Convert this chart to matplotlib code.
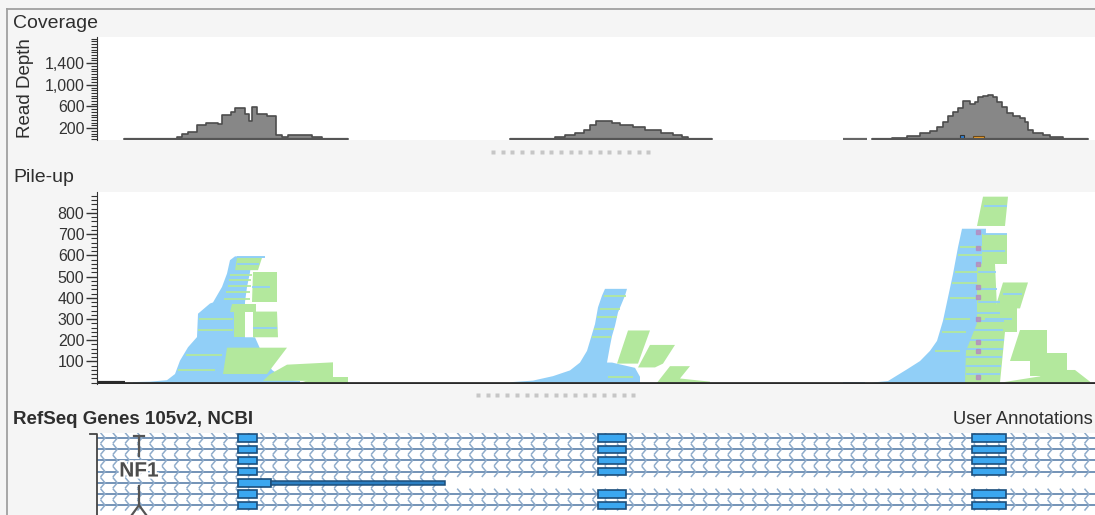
import numpy as np
import matplotlib
matplotlib.use('Agg')
import matplotlib.pyplot as plt
from matplotlib.patches import Polygon, Rectangle
from matplotlib.lines import Line2D
from matplotlib.collections import LineCollection
from matplotlib.ticker import FuncFormatter, MultipleLocator
import matplotlib.patheffects as pe

plt.rcParams['font.family'] = ['Liberation Sans', 'DejaVu Sans']

W, H = 1095, 515

# ---- coverage (read depth), step profiles over the view ----
cov1_pos = [124, 177, 182, 188, 197, 206, 218, 222, 231, 235, 245, 249, 252, 257, 267, 276, 282, 288, 312, 322, 348]
cov1_depth = [0, 40, 85, 130, 260, 300, 280, 440, 500, 580, 470, 330, 585, 460, 420, 70, 40, 80, 40, 0, 0]
cov2_pos = [510, 555, 565, 575, 584, 590, 596, 612, 620, 633, 645, 661, 673, 682, 688, 712]
cov2_depth = [0, 35, 80, 110, 175, 255, 335, 300, 265, 225, 160, 110, 80, 35, 0, 0]
cov3_pos = [872, 892, 907, 920, 930, 937, 943, 948, 953, 958, 963, 970, 975, 978, 983, 988, 993, 997,
            1002, 1007, 1013, 1020, 1025, 1028, 1033, 1043, 1050, 1060, 1063, 1088]
cov3_depth = [0, 20, 60, 110, 155, 215, 305, 430, 490, 570, 695, 655, 675, 770, 800, 820, 770, 690,
              590, 475, 425, 380, 320, 165, 115, 75, 45, 30, 0, 0]
cov_gap_span = (843, 867)
# variant marks under the third peak: (start, end, depth)
var_blue = (960, 964, 75)
var_orange = (973, 984, 65)

# ---- pile-up: groups of stacked reads as (position, row) outlines ----
BLUE = '#91cff7'
GREEN = '#b3e89d'
pile_blue = [
    [(133, 0), (300, 0), (300, 8), (285, 18), (272, 60), (262, 140), (255, 214), (245, 214), (245, 380),
     (247, 450), (250, 520), (252, 585), (265, 588), (265, 595), (235, 595), (230, 577), (227, 514),
     (222, 451), (213, 378), (210, 373), (198, 325), (197, 215), (188, 167), (180, 104), (175, 41),
     (167, 12), (150, 5), (133, 3)],
    [(510, 0), (640, 0), (640, 28), (635, 70), (612, 95), (607, 95), (610, 173), (612, 220), (615, 268),
     (618, 331), (625, 410), (627, 442), (605, 442), (602, 410), (598, 355), (595, 276), (590, 197),
     (587, 150), (580, 95), (570, 58), (553, 31), (533, 10), (512, 3)],
    [(843, 0), (865, 0), (865, 5), (843, 5)],
    [(872, 0), (1000, 0), (995, 100), (990, 210), (985, 560), (986, 725), (962, 725), (958, 638),
     (953, 512), (948, 402), (943, 292), (937, 197), (930, 150), (920, 102), (907, 63), (888, 8), (875, 2)],
]
pile_green = [
    [(235, 530), (258, 530), (262, 588), (237, 588)],
    [(252, 380), (277, 380), (277, 520), (253, 520)],
    [(230, 335), (256, 335), (256, 373), (232, 373)],
    [(253, 214), (278, 214), (277, 335), (253, 335)],
    [(234, 214), (245, 214), (245, 335), (234, 335)],
    [(223, 41), (267, 41), (287, 165), (227, 165)],
    [(263, 9), (333, 9), (333, 96), (287, 85), (270, 40)],
    [(300, 0), (348, 0), (348, 25), (317, 25)],
    [(617, 90), (638, 90), (650, 246), (628, 246)],
    [(638, 72), (655, 72), (663, 90), (675, 178), (650, 178)],
    [(657, 0), (710, 0), (710, 5), (680, 20), (690, 78), (670, 78)],
    [(965, 0), (1000, 0), (1005, 240), (997, 350), (995, 560), (977, 560), (977, 280), (966, 150)],
    [(985, 240), (1017, 240), (1017, 350), (985, 350)],
    [(995, 350), (1020, 350), (1028, 472), (1003, 472)],
    [(982, 560), (1007, 560), (1007, 700), (982, 700)],
    [(977, 738), (1005, 738), (1008, 876), (983, 876)],
    [(1010, 100), (1047, 100), (1047, 248), (1020, 248)],
    [(1030, 30), (1067, 30), (1067, 140), (1030, 140)],
    [(1000, 0), (1090, 0), (1090, 5), (1075, 60), (1047, 60), (1040, 30)],
]
# single reads of the other strand crossing a group: (row, start, end)
green_reads = [(395, 224, 250), (425, 226, 250), (455, 228, 251), (485, 229, 251), (505, 230, 252),
               (250, 198, 233), (300, 199, 233), (130, 186, 222), (60, 178, 215),
               (410, 604, 626), (347, 600, 620), (308, 597, 617), (252, 594, 614), (213, 592, 611),
               (27, 608, 633),
               (640, 960, 984), (600, 958, 983), (520, 955, 980), (470, 952, 978), (400, 950, 976),
               (300, 945, 970), (240, 942, 966), (150, 935, 960)]
blue_reads = [(590, 237, 265), (560, 237, 259), (260, 253, 277), (450, 252, 270),
              (700, 983, 1007), (830, 984, 1007), (620, 982, 1005), (520, 978, 996), (440, 977, 997),
              (380, 978, 1000), (330, 970, 1000), (290, 968, 1004), (250, 967, 1003), (200, 966, 1004),
              (160, 966, 1003), (120, 966, 1002), (80, 966, 1001), (40, 966, 1000), (420, 1003, 1022),
              (300, 985, 1012)]
# mismatch column in the third group: (position, row)
mism_pos = [978, 978, 978, 978, 978, 978, 978, 978, 978]
mism_row = [711, 633, 560, 451, 403, 300, 191, 151, 25]

# ---- gene track ----
tx_rows = [0, 1, 2, 3, 4, 5, 6]
tx_start = [97, 97, 97, 97, 97, 97, 97]
tx_end = [1095, 1095, 1095, 1095, 445, 1095, 1095]
exon_cols = [(238, 257), (598, 626), (972, 1006)]
exon_rows = [0, 1, 2, 3, 5, 6]
short_exon = (238, 271)
short_utr = (271, 445)
gene_name = 'NF1'
gene_mark_pos = 139

fig = plt.figure(figsize=(W / 100, H / 100), dpi=100)
fig.patch.set_facecolor('#f5f5f5')


def box(x0, y0, x1, y1):
    return [x0 / W, 1 - y1 / H, (x1 - x0) / W, (y1 - y0) / H]


def fx(x):
    return np.asarray(x) / W


def fy(y):
    return 1 - np.asarray(y) / H


TXT = '#2e2e2e'

# frame of the panel
fig.add_artist(Line2D([fx(7), fx(7)], [fy(9), fy(515)], color='#a0a0a0', lw=1.3))
fig.add_artist(Line2D([fx(7), fx(1095)], [fy(9), fy(9)], color='#a0a0a0', lw=1.3))

# ---- coverage panel ----
ax1 = fig.add_axes(box(97, 37, 1095, 140))
ax1.set_xlim(97, 1095)
ax1.set_ylim(-18, 1882)
for pos, dep in [(cov1_pos, cov1_depth), (cov2_pos, cov2_depth), (cov3_pos, cov3_depth)]:
    ax1.fill_between(pos, dep, step='post', color='#878787', lw=0)
    ax1.step(pos, dep, where='post', color='#4d4d4d', lw=1.2)
    ax1.hlines(0, pos[0], pos[-1], color='#555555', lw=1.6)
ax1.hlines(0, cov_gap_span[0], cov_gap_span[1], color='#666666', lw=1.6)
ax1.add_patch(Rectangle((var_blue[0], 0), var_blue[1] - var_blue[0], var_blue[2],
                        fc='#2b7fd4', ec='#333333', lw=0.8))
ax1.add_patch(Rectangle((var_orange[0], 0), var_orange[1] - var_orange[0], var_orange[2],
                        fc='#f5a22a', ec='#6b4a1a', lw=0.8))
ax1.set_yticks([200, 600, 1000, 1400])
ax1.yaxis.set_major_formatter(FuncFormatter(lambda v, p: f'{int(v):,}'))
ax1.yaxis.set_minor_locator(MultipleLocator(50))
ax1.set_xticks([])

# ---- pile-up panel ----
ax2 = fig.add_axes(box(97, 192, 1095, 384))
ax2.set_xlim(97, 1095)
ax2.set_ylim(-6, 898)
for poly in pile_blue:
    ax2.add_patch(Polygon(poly, closed=True, fc=BLUE, ec='none'))
for poly in pile_green:
    ax2.add_patch(Polygon(poly, closed=True, fc=GREEN, ec='none'))
for r, s, e in green_reads:
    ax2.hlines(r, s, e, color=GREEN, lw=1.3)
for r, s, e in blue_reads:
    ax2.hlines(r, s, e, color=BLUE, lw=1.3)
ax2.plot(mism_pos, mism_row, ls='none', marker='s', ms=2.5, color='#b58ac0', alpha=0.8)
ax2.axhline(0, color='#2a2a2a', lw=2)
ax2.hlines(0, 97, 125, color='#2a2a2a', lw=3)
ax2.set_yticks(range(100, 900, 100))
ax2.yaxis.set_minor_locator(MultipleLocator(20))
ax2.set_xticks([])

for ax in (ax1, ax2):
    for s in ('top', 'right', 'bottom'):
        ax.spines[s].set_visible(False)
    ax.spines['left'].set_color('#333333')
    ax.tick_params(axis='y', which='major', direction='out', length=8, width=1,
                   labelsize=11.5, colors='#333333', pad=1)
    ax.tick_params(axis='y', which='minor', direction='out', length=4, width=0.8, colors='#333333')
    ax.set_facecolor('white')

# ---- gene track ----
ax3 = fig.add_axes(box(97, 433, 1095, 515))
ax3.set_xlim(97, 1095)
ax3.set_ylim(6.875, -0.45)
ax3.set_xticks([])
ax3.set_yticks([])
for s in ax3.spines.values():
    s.set_visible(False)
ax3.set_facecolor('white')

chev = []
for r, s, e in zip(tx_rows, tx_start, tx_end):
    ax3.hlines(r, s, e, color='#7393b7', lw=1.4, zorder=1)
    for c in np.arange(s + 8, e, 12.3):
        chev.append([(c - 4.5, r - 0.48), (c, r), (c - 4.5, r + 0.48)])
ax3.add_collection(LineCollection(chev, colors='#8eabca', lw=1.1, zorder=1))
for r in exon_rows:
    for x0, x1 in exon_cols:
        ax3.add_patch(Rectangle((x0, r - 0.33), x1 - x0, 0.66, fc='#3ba7f0', ec='#1c4f7c', lw=1.2, zorder=3))
ax3.add_patch(Rectangle((short_exon[0], 4 - 0.33), short_exon[1] - short_exon[0], 0.66,
                        fc='#3ba7f0', ec='#1c4f7c', lw=1.2, zorder=3))
ax3.add_patch(Rectangle((short_utr[0], 4 - 0.16), short_utr[1] - short_utr[0], 0.32,
                        fc='#2c7fc2', ec='#1c4f7c', lw=1.1, zorder=3))

# gene label marker
mk = '#555555'
ax3.plot([gene_mark_pos - 5, gene_mark_pos + 5], [-0.2, -0.2], color=mk, lw=1.6, zorder=4)
ax3.plot([gene_mark_pos, gene_mark_pos], [-0.2, 1.6], color=mk, lw=1.6, zorder=4)
ax3.plot([gene_mark_pos, gene_mark_pos], [4.3, 6.0], color=mk, lw=1.6, zorder=4)
ax3.plot([gene_mark_pos - 7, gene_mark_pos, gene_mark_pos + 7], [6.85, 6.0, 6.85], color=mk, lw=1.6, zorder=4)
ax3.text(gene_mark_pos, 2.95, gene_name, ha='center', va='center', fontsize=15, fontweight='bold',
         color='#4d4d4d', zorder=5, path_effects=[pe.withStroke(linewidth=3, foreground='white')])

# bracket on the track's left edge
fig.add_artist(Line2D([fx(90), fx(97), fx(97)], [fy(434), fy(434), fy(515)], color='#444444', lw=1.3))

# splitter grips
for y0, x0 in [(152, 493), (395, 478)]:
    xs = x0 + 9.7 * np.arange(17)
    fig.add_artist(Line2D(fx(xs), fy(np.full(len(xs), y0)), ls='none', marker='s', ms=2.2,
                          color='#c6c6c6', mec='none'))

# panel titles
fig.text(fx(13), fy(23), 'Coverage', fontsize=14, color=TXT, va='center', ha='left')
fig.text(fx(25), fy(88), 'Read Depth', fontsize=13.5, color=TXT, va='center', ha='center', rotation=90)
fig.text(fx(13), fy(178), 'Pile-up', fontsize=14, color=TXT, va='center', ha='left')
fig.text(fx(13), fy(420), 'RefSeq Genes 105v2, NCBI', fontsize=13.5, fontweight='bold', color=TXT,
         va='center', ha='left')
fig.text(fx(1093), fy(420), 'User Annotations', fontsize=13.2, color=TXT, va='center', ha='right')

fig.savefig('out.png', dpi=100, facecolor=fig.get_facecolor())
